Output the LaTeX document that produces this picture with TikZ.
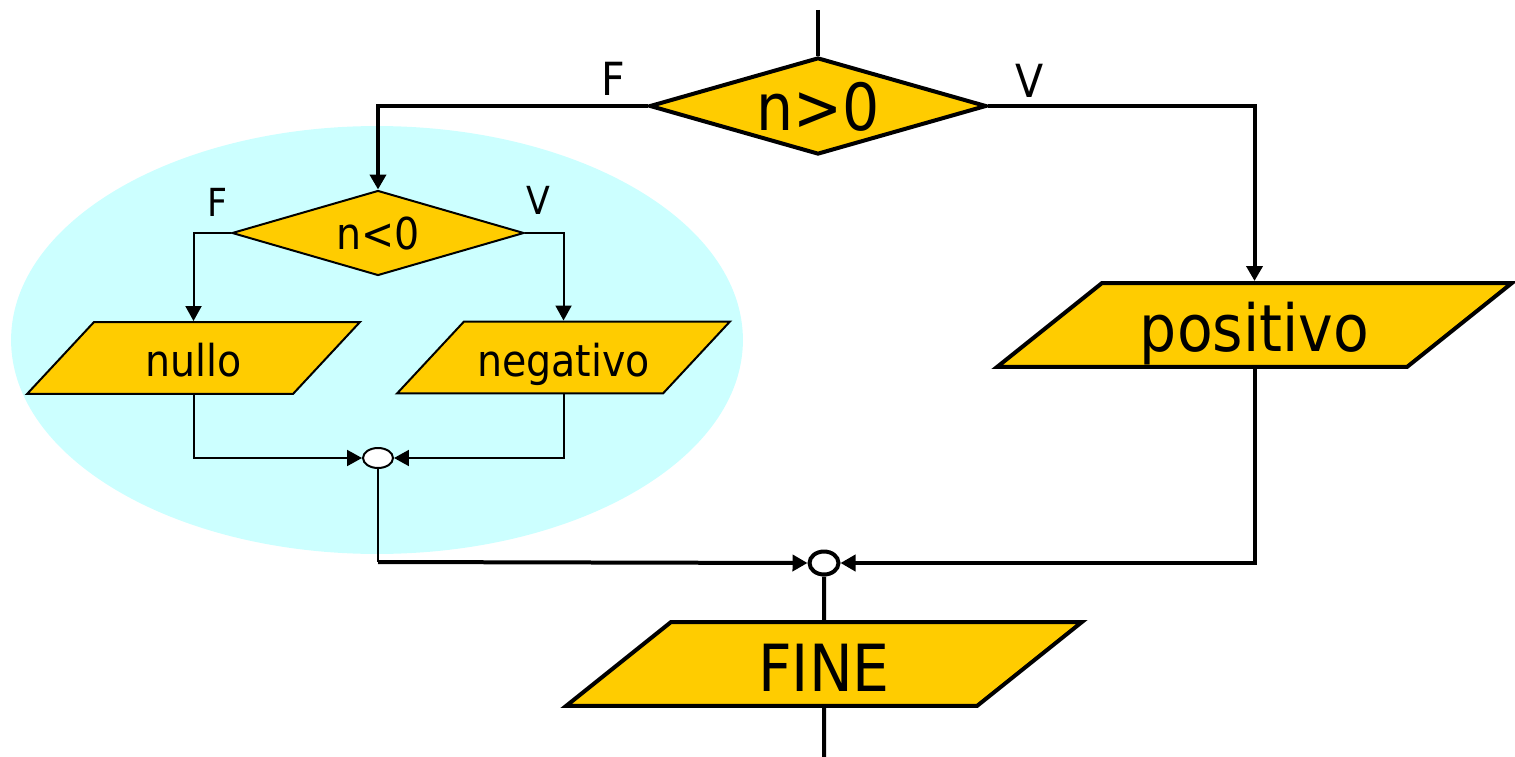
\documentclass[tikz,border=0pt]{standalone}
\usepackage{fontspec}
\setmainfont[FakeStretch=0.9]{DejaVu Sans}
\usepackage{tikz}
\usetikzlibrary{shapes.geometric,arrows.meta}
\definecolor{flowyellow}{HTML}{FFCC00}
\definecolor{flowcyan}{HTML}{CCFFFF}

\begin{document}
\begin{tikzpicture}[x=0.02cm, y=-0.02cm,
        bigline/.style={line width=0.08cm},
        smallline/.style={line width=0.04cm},
        bigarrow/.style={bigline, -{Triangle[length=0.3cm, width=0.32cm]}},
        smallarrow/.style={smallline, -{Triangle[length=0.3cm, width=0.32cm]}},
        decision/.style={diamond, draw=black, fill=flowyellow, inner sep=0pt, aspect=3.45, text depth=0pt},
        io/.style={trapezium, trapezium stretches body, draw=black, fill=flowyellow, inner sep=0pt},
        bigio/.style={io, bigline, bigtext, trapezium left angle=38.66, trapezium right angle=141.34,
            text height=1.38cm, text depth=0.3cm},
        smallio/.style={io, smallline, smalltext, trapezium left angle=47.06, trapezium right angle=132.94,
            text height=1.1cm, text depth=0.34cm},
        junction/.style={ellipse, draw=black, fill=white, inner sep=0pt},
        bigtext/.style={font=\fontsize{37}{44}\selectfont},
        smalltext/.style={font=\fontsize{25}{30}\selectfont},
        biglabel/.style={font=\fontsize{26}{31}\selectfont},
        smalllabel/.style={font=\fontsize{22}{26}\selectfont}
    ]
        \useasboundingbox (0,0) rectangle (1515,757);

        % Highlighted block
        \fill[flowcyan] (377,340) ellipse [x radius=7.32cm, y radius=4.28cm];

        % Main decision
        \coordinate (start) at (818,10);
        \node[decision, bigline, bigtext, minimum width=6.74cm, minimum height=1.94cm] (test1) at (818,106) {n>0};
        \node[biglabel] (false1) at (613,79) {F};
        \node[biglabel] (true1) at (1030,81) {V};

        % Inner decision
        \node[decision, smallline, smalltext, minimum width=5.84cm, minimum height=1.7cm] (test2) at (378,233) {n<0};
        \node[smalllabel] (false2) at (218,202) {F};
        \node[smalllabel] (true2) at (538,200) {V};

        % Outputs
        \node[smallio, minimum width=6.66cm] (zero) at (193.5,358) {nullo};
        \node[smallio, minimum width=6.66cm] (neg) at (563.5,357.5) {negativo};
        \node[bigio, minimum width=10.3cm] (pos) at (1254.5,325) {positivo};
        \node[bigio, minimum width=10.32cm] (fine) at (824,664) {FINE};

        % Junctions
        \node[junction, smallline, minimum width=0.6cm, minimum height=0.4cm] (join1) at (378,458) {};
        \node[junction, bigline, minimum width=0.58cm, minimum height=0.46cm] (join2) at (824,563) {};
        \coordinate (bend) at (378,562);
        \coordinate (stop) at (824,757);

        % Connections
        \draw[bigline] (start) -- (test1.north);
        \draw[bigarrow] (test1.west) -| (test2.north);
        \draw[bigarrow] (test1.east) -| (pos.north);
        \draw[smallarrow] (test2.west) -| (zero.north);
        \draw[smallarrow] (test2.east) -| (neg.north);
        \draw[smallarrow] (zero.south) |- (join1.west);
        \draw[smallarrow] (neg.south) |- (join1.east);
        \draw[smallline] (join1.south) -- (bend);
        \draw[bigarrow] (bend) -- (join2.west);
        \draw[bigarrow] (pos.south) |- (join2.east);
        \draw[bigline] (join2.south) -- (fine.north);
        \draw[bigline] (fine.south) -- (stop);
    \end{tikzpicture}
\end{document}
